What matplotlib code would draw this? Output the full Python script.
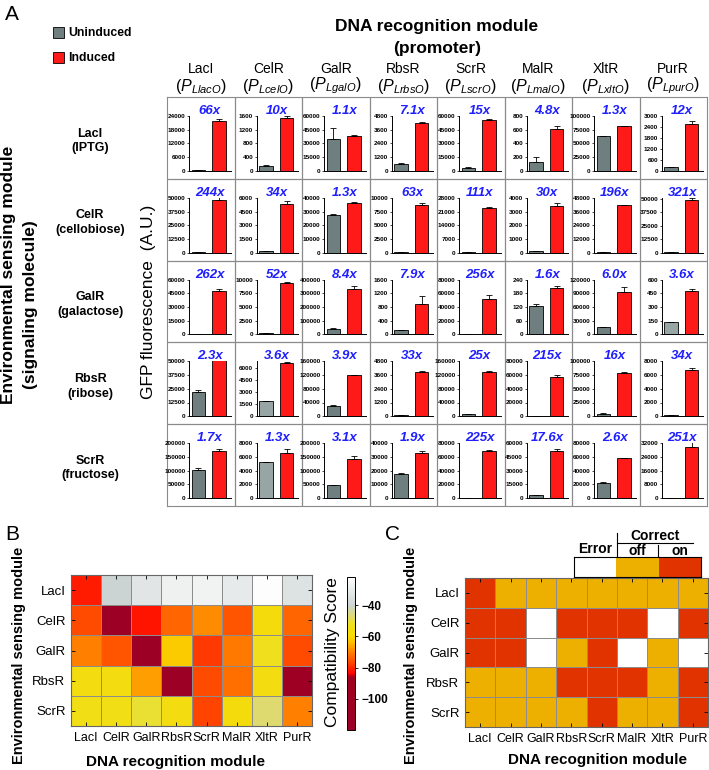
import matplotlib
matplotlib.use("Agg")
import matplotlib.pyplot as plt
import numpy as np
from matplotlib.colors import LinearSegmentedColormap, ListedColormap
from matplotlib.lines import Line2D
from matplotlib.patches import Rectangle

plt.rcParams["font.family"] = ["Liberation Sans", "DejaVu Sans"]
plt.rcParams["mathtext.fontset"] = "custom"
plt.rcParams["mathtext.rm"] = "Liberation Sans"
plt.rcParams["mathtext.it"] = "Liberation Sans:italic"

# ---- data ----
promoters = ["LacI", "CelR", "GalR", "RbsR", "ScrR", "MalR", "XltR", "PurR"]
promoter_names = ["LlacO", "LcelO", "LgalO", "LrbsO", "LscrO", "LmalO", "LxltO", "LpurO"]
sensors = ["LacI", "CelR", "GalR", "RbsR", "ScrR"]
molecules = ["IPTG", "cellobiose", "galactose", "ribose", "fructose"]

uninduced = [
    [330, 150, 35000, 590, 3500, 127, 63000, 210],
    [200, 156, 27500, 138, 207, 113, 212, 153],
    [183, 181, 39000, 114, 199, 126, 15300, 133],
    [22500, 1830, 30500, 117, 5100, 265, 4900, 200],
    [101000, 5200, 45800, 17300, 307, 2900, 22300, 120],
]
uninduced_err = [
    [80, 20, 12000, 50, 500, 80, 1000, 25],
    [30, 30, 700, 20, 30, 30, 30, 30],
    [30, 30, 5000, 10, 30, 8, 1500, 5],
    [1000, 80, 2000, 20, 500, 40, 500, 30],
    [7000, 100, 2000, 1200, 50, 400, 400, 20],
]
induced = [
    [22000, 1530, 38000, 4150, 55500, 610, 81000, 2580],
    [48000, 5300, 36000, 8700, 23000, 3400, 41500, 49000],
    [48000, 9400, 330000, 900, 51000, 204, 92000, 480],
    [52000, 6600, 120000, 3850, 128000, 57000, 79000, 6800],
    [170000, 6600, 142000, 33000, 69000, 51000, 58000, 30000],
]
induced_err = [
    [500, 80, 800, 100, 1000, 50, 1000, 120],
    [2500, 400, 600, 300, 500, 250, 400, 1500],
    [1500, 100, 20000, 230, 7000, 8, 12000, 20],
    [700, 80, 1500, 80, 5000, 2500, 1500, 300],
    [10000, 500, 10000, 1500, 500, 3000, 1000, 2500],
]
fold_change = [
    ["66x", "10x", "1.1x", "7.1x", "15x", "4.8x", "1.3x", "12x"],
    ["244x", "34x", "1.3x", "63x", "111x", "30x", "196x", "321x"],
    ["262x", "52x", "8.4x", "7.9x", "256x", "1.6x", "6.0x", "3.6x"],
    ["2.3x", "3.6x", "3.9x", "33x", "25x", "215x", "16x", "34x"],
    ["1.7x", "1.3x", "3.1x", "1.9x", "225x", "17.6x", "2.6x", "251x"],
]
y_top = [
    [24000, 1600, 60000, 4800, 60000, 800, 100000, 3000],
    [50000, 6000, 40000, 10000, 28000, 4000, 48000, 51000],
    [60000, 10000, 400000, 1600, 80000, 240, 120000, 600],
    [50000, 6800, 160000, 4800, 160000, 80000, 100000, 8000],
    [200000, 8000, 200000, 40000, 80000, 60000, 80000, 32000],
]
y_step = [
    [6000, 400, 15000, 1200, 15000, 200, 25000, 600],
    [12500, 1500, 10000, 2500, 7000, 1000, 12000, 12500],
    [15000, 2500, 100000, 400, 20000, 60, 30000, 150],
    [12500, 1500, 40000, 1200, 40000, 20000, 25000, 2000],
    [50000, 2000, 50000, 10000, 20000, 15000, 20000, 8000],
]

compat_score = [
    [-81, -40, -33, -28, -27, -31, -23, -34],
    [-76, -110, -82, -73, -69, -75, -57, -73],
    [-70, -75, -112, -62, -78, -71, -53, -76],
    [-56, -56, -67, -115, -76, -72, -56, -108],
    [-55, -55, -51, -56, -77, -57, -47, -70],
]
# 0 = error, 1 = correct off, 2 = correct on
outcome = [
    [2, 1, 1, 1, 1, 1, 1, 1],
    [2, 2, 0, 2, 2, 2, 0, 2],
    [2, 2, 0, 1, 2, 0, 1, 0],
    [1, 1, 1, 2, 2, 2, 1, 2],
    [1, 1, 1, 1, 2, 1, 1, 2],
]

# ---- figure in pixel coordinates ----
W, H = 709, 770
fig = plt.figure(figsize=(W / 100, H / 100), dpi=100)


def px_axes(x0, y0, x1, y1):
    return fig.add_axes([x0 / W, 1 - y1 / H, (x1 - x0) / W, (y1 - y0) / H])


def px_text(x, y, s, **kw):
    return fig.text(x / W, 1 - y / H, s, **kw)


gray = "#6F7F80"
light_gray = "#97A5A5"
red = "#FF1A1A"
blue = "#1F1FFF"
# a few uninduced bars are drawn in a lighter grey in the original
light_cells = [(2, 7), (3, 1), (4, 1)]

# ---- panel A ----
gx0, gx1, gy0, gy1 = 167, 707, 97, 506
cw = (gx1 - gx0) / 8
rh = (gy1 - gy0) / 5

grid_ax = px_axes(gx0, gy0, gx1, gy1)
grid_ax.set_xlim(0, 8)
grid_ax.set_ylim(5, 0)
for i in range(1, 8):
    grid_ax.axvline(i, color="#8a8a8a", lw=0.9)
for j in range(1, 5):
    grid_ax.axhline(j, color="#8a8a8a", lw=0.9)
for s in grid_ax.spines.values():
    s.set_color("#8a8a8a")
grid_ax.set_xticks([])
grid_ax.set_yticks([])

for r in range(5):
    for c in range(8):
        cx0 = gx0 + c * cw
        cy0 = gy0 + r * rh
        ax = px_axes(cx0 + 22, cy0 + 19, cx0 + cw - 4, cy0 + rh - 8)
        ucol = light_gray if (r, c) in light_cells else gray
        ax.bar([0, 1], [uninduced[r][c], induced[r][c]], width=0.65,
               color=[ucol, red], edgecolor="black", linewidth=0.6,
               yerr=[[0, 0], [uninduced_err[r][c], induced_err[r][c]]],
               error_kw=dict(ecolor="black", elinewidth=0.6, capsize=2, capthick=0.6))
        ax.set_xlim(-0.45, 1.55)
        ax.set_ylim(0, y_top[r][c])
        ticks = np.arange(0, y_top[r][c] + 1, y_step[r][c])
        ax.set_yticks(ticks)
        ax.set_yticklabels([str(int(t)) for t in ticks], fontsize=4.6, fontweight="bold")
        ax.tick_params(axis="y", length=1.5, width=0.5, pad=1)
        ax.set_xticks([])
        ax.spines["top"].set_visible(False)
        ax.spines["right"].set_visible(False)
        ax.spines["left"].set_linewidth(0.7)
        ax.spines["bottom"].set_linewidth(0.7)
        ax.patch.set_alpha(0)
        px_text(cx0 + 22 + (cw - 26) / 2, cy0 + 14, fold_change[r][c], color=blue,
                fontsize=9.5, fontweight="bold", style="italic", ha="center", va="center")

for c in range(8):
    xc = gx0 + (c + 0.5) * cw
    px_text(xc, 69, promoters[c], fontsize=10, ha="center", va="center")
    px_text(xc, 86, r"$(P_{%s})$" % promoter_names[c], fontsize=11.5, ha="center", va="center")

for r in range(5):
    yc = gy0 + (r + 0.5) * rh
    px_text(90, yc + 3, "%s\n(%s)" % (sensors[r], molecules[r]), fontsize=9,
            fontweight="bold", ha="center", va="center", linespacing=1.3)

px_text(437, 27, "DNA recognition module", fontsize=12.5, fontweight="bold", ha="center", va="center")
px_text(437, 48, "(promoter)", fontsize=12.5, fontweight="bold", ha="center", va="center")
px_text(9, 404, "Environmental sensing module", fontsize=12.5, fontweight="bold",
        rotation=90, ha="center", va="bottom")
px_text(31, 305, "(signaling molecule)", fontsize=12.5, fontweight="bold",
        rotation=90, ha="center", va="center")
px_text(148, 302, "GFP fluorescence  (A.U.)", fontsize=12.5, rotation=90, ha="center", va="center")

fig.add_artist(Rectangle((53 / W, 1 - 38 / H), 11 / W, 11 / H, facecolor=gray,
                         edgecolor="black", lw=0.6, transform=fig.transFigure))
fig.add_artist(Rectangle((53 / W, 1 - 63 / H), 11 / W, 11 / H, facecolor=red,
                         edgecolor="black", lw=0.6, transform=fig.transFigure))
px_text(68, 33, "Uninduced", fontsize=8.8, fontweight="bold", va="center")
px_text(68, 58, "Induced", fontsize=8.8, fontweight="bold", va="center")

px_text(12, 14, "A", fontsize=15, ha="center", va="center")
px_text(12, 535, "B", fontsize=15, ha="center", va="center")
px_text(392, 535, "C", fontsize=15, ha="center", va="center")

# ---- panel B ----
nodes = [(-120, "#9B0026"), (-86, "#A0001E"), (-84, "#FF0000"), (-77, "#FF4400"),
         (-70, "#FF8000"), (-64, "#FFBB00"), (-60, "#F8DA00"), (-52, "#EEE020"),
         (-45, "#D8D890"), (-40, "#CCD4D4"), (-22, "#FFFFFF")]
vmin, vmax = -120, -22
score_cmap = LinearSegmentedColormap.from_list(
    "score", [((v - vmin) / (vmax - vmin), col) for v, col in nodes])


def style_heat(ax):
    ax.set_xlim(0, 8)
    ax.set_ylim(5, 0)
    ax.set_xticks(np.arange(8) + 0.5)
    ax.set_xticklabels(promoters, fontsize=9)
    ax.set_yticks(np.arange(5) + 0.5)
    ax.set_yticklabels(sensors, fontsize=9.5)
    ax.tick_params(direction="in", top=True, right=True, length=3, width=0.6, pad=4)
    for s in ax.spines.values():
        s.set_color("#666666")
        s.set_linewidth(0.8)


bax = px_axes(71, 575, 312, 726)
mesh = bax.pcolormesh(np.array(compat_score), cmap=score_cmap, vmin=vmin, vmax=vmax,
                      edgecolors="#8c8c8c", linewidth=0.6)
style_heat(bax)

cax = px_axes(347, 577, 355, 730)
cb = fig.colorbar(mesh, cax=cax)
cb.set_ticks([-100, -80, -60, -40])
cb.ax.tick_params(labelsize=8.5, length=2, width=0.6, pad=3)
for lab in cb.ax.get_yticklabels():
    lab.set_fontweight("bold")
cb.outline.set_linewidth(0.7)
px_text(333, 652, "Compatibility Score", fontsize=12.5, rotation=90, ha="center", va="center")

px_text(175, 762, "DNA recognition module", fontsize=11, fontweight="bold", ha="center", va="center")
px_text(19, 655, "Environmental sensing module", fontsize=10.5, fontweight="bold",
        rotation=90, ha="center", va="center")

# ---- panel C ----
outcome_cmap = ListedColormap(["#FFFFFF", "#EEB000", "#E03300"])
cax2 = px_axes(465, 578, 708, 727)
cax2.pcolormesh(np.array(outcome), cmap=outcome_cmap, vmin=-0.5, vmax=2.5,
                edgecolors="#8c8c8c", linewidth=0.6)
style_heat(cax2)
px_text(598, 760, "DNA recognition module", fontsize=11, fontweight="bold", ha="center", va="center")
px_text(411, 655, "Environmental sensing module", fontsize=10.5, fontweight="bold",
        rotation=90, ha="center", va="center")

leg = px_axes(574, 557, 701, 577)
leg.imshow([[0, 1, 2]], cmap=outcome_cmap, vmin=-0.5, vmax=2.5, aspect="auto")
leg.set_xticks([])
leg.set_yticks([])
for s in leg.spines.values():
    s.set_linewidth(0.8)

fig.add_artist(Line2D([617 / W, 617 / W], [1 - 533 / H, 1 - 556 / H], color="black", lw=0.8))
fig.add_artist(Line2D([617 / W, 693 / W], [1 - 543 / H, 1 - 543 / H], color="black", lw=0.8))
fig.add_artist(Line2D([658 / W, 658 / W], [1 - 545 / H, 1 - 556 / H], color="black", lw=0.8))
px_text(595, 549, "Error", fontsize=10, fontweight="bold", ha="center", va="center")
px_text(655, 536, "Correct", fontsize=10, fontweight="bold", ha="center", va="center")
px_text(637, 551, "off", fontsize=10, fontweight="bold", ha="center", va="center")
px_text(680, 551, "on", fontsize=10, fontweight="bold", ha="center", va="center")

fig.savefig("out.png", dpi=100)
